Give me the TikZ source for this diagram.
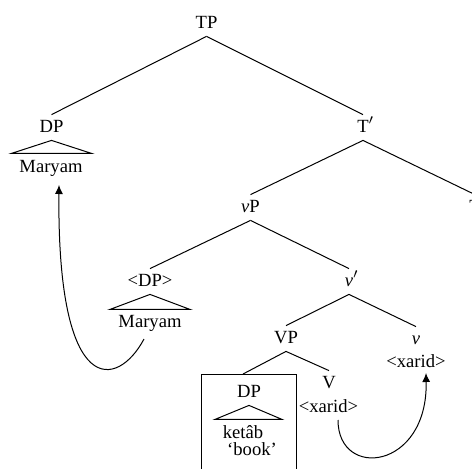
\documentclass[tikz,border=0pt]{standalone}
\usepackage{fontspec}
\setmainfont{Liberation Serif}
\usetikzlibrary{arrows.meta}
\tikzset{
  cat/.style={anchor=base, inner xsep=1pt, inner ysep=4pt, text height=4.5pt, text depth=0pt},
  leaf/.style={anchor=base, inner xsep=2pt, inner ysep=0pt, text height=9.5pt, text depth=0pt},
  branch/.style={line width=0.5pt},
  mv/.style={-{Latex[length=4.5pt,width=4pt]}, line width=0.5pt},
}
\begin{document}
\begin{tikzpicture}[x=0.5pt,y=-0.5pt,font=\fontsize{9.3pt}{11pt}\selectfont]
\useasboundingbox (0,0) rectangle (472,468);
\clip (0,0) rectangle (472,468);
% nodes
\node[cat] (tp) at (206.5,28) {TP};
\node[cat] (dp) at (51.5,132) {DP};
\node[cat] (tbar) at (363,132) {T\rlap{$'$}};
\node[leaf] (m1) at (51,172) {Maryam};
\node[cat] (vp) at (250.5,212) {\textit{v}P};
\node[cat] (t) at (475,212) {T};
\node[cat] (tdp) at (150,286) {<DP>};
\node[leaf] (m2) at (150,327) {Maryam};
\node[cat] (vbar) at (349,286) {\textit{v}\rlap{$'$}};
\node[cat] (vvp) at (286,343) {VP};
\node[cat] (vhead) at (416,344) {\textit{v}};
\node[leaf] (x1) at (416,367) {<xarid>};
\node[cat] (Vhead) at (329,388) {V};
\node[leaf] (x2) at (328.5,412) {<xarid>};
\node[draw, line width=0.5pt, minimum width=47.5pt, minimum height=55pt, inner sep=0pt, anchor=north] (box) at (248.5,374) {};
\node[cat] (dp3) at (249,397) {DP};
\node[leaf] (k) at (243,438) {ketâb};
\node[leaf] (bk) at (252,455) {‘book’};
% branches
\draw[branch] (tp.south) -- (dp.north);
\draw[branch] (tp.south) -- (tbar.north);
\draw[branch] (tbar.south) -- (vp.north);
\draw[branch] (tbar.south) -- (t.north);
\draw[branch] (vp.south) -- (tdp.north);
\draw[branch] (vp.south) -- (vbar.north);
\draw[branch] (vbar.south) -- (vvp.north);
\draw[branch] (vbar.south) -- (vhead.north);
\draw[branch] (vvp.south) -- ([xshift=-2.75pt]box.north);
\draw[branch] (vvp.south) -- (Vhead.north);
% triangles
\draw[branch] (dp.south) -- +(-40,13) -- +(40,13) -- cycle;
\draw[branch] (tdp.south) -- +(-40,15) -- +(40,15) -- cycle;
\draw[branch] (dp3.south) -- +(-34,14) -- +(33,14) -- cycle;
% movement arrows
\draw[mv] ([xshift=-3pt,yshift=-6pt]m2.base) .. controls (118,388) and (57,402) .. ([xshift=4pt,yshift=-6.5pt]m1.base);
\draw[mv] ([xshift=4.75pt,yshift=-4pt]x2.base) .. controls (338,480) and (428,470) .. ([xshift=5pt,yshift=-3pt]x1.base);
\end{tikzpicture}
\end{document}
